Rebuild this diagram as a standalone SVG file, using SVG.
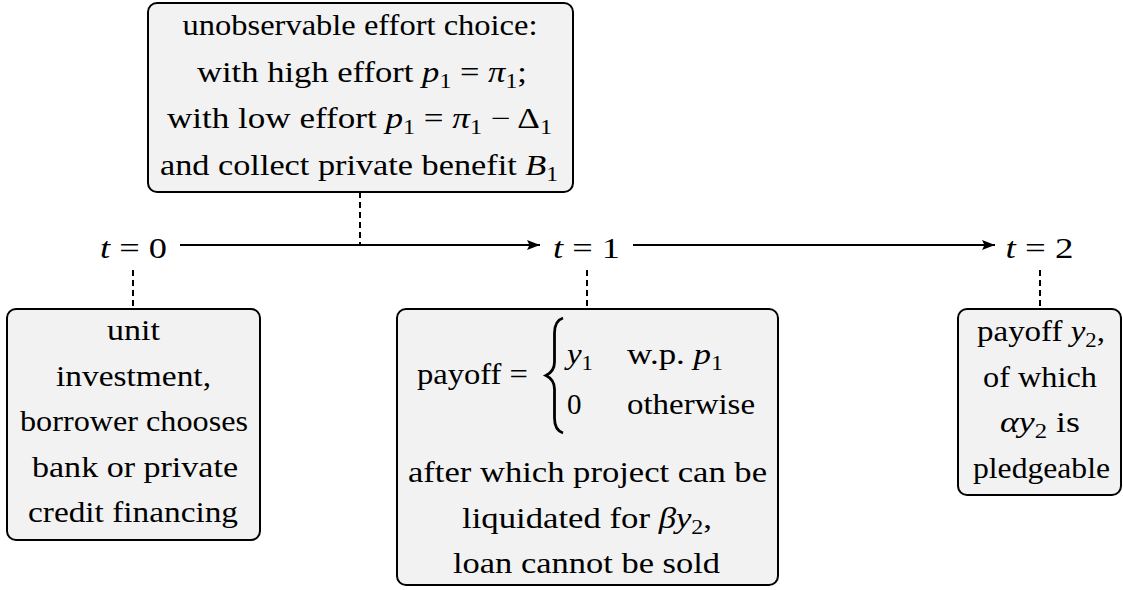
<svg xmlns="http://www.w3.org/2000/svg" width="1123" height="590" viewBox="0 0 1123 590">
<style>
.box{fill:#f2f2f2;stroke:#000;stroke-width:2}
text{font-family:'Liberation Serif','DejaVu Serif',serif;font-size:29px;fill:#000}
.t{text-anchor:middle}
.i{font-style:italic}
.s{font-size:20px}
.dash{stroke:#000;stroke-width:2;stroke-dasharray:6 4;fill:none}
.arr{stroke:#000;stroke-width:2;fill:none}
</style>
<defs>
<marker id="ah" markerUnits="userSpaceOnUse" markerWidth="14" markerHeight="12" refX="13" refY="5" orient="auto">
<path d="M0,0 L13,5 L0,10 L2.5,5 Z" fill="#000"/>
</marker>
</defs>
<g id="connectors">
<line class="arr" x1="180" y1="245" x2="540" y2="245" marker-end="url(#ah)"/>
<line class="arr" x1="633" y1="245" x2="995" y2="245" marker-end="url(#ah)"/>
<line class="dash" x1="360" y1="192" x2="360" y2="245"/>
<line class="dash" x1="133" y1="270" x2="133" y2="309"/>
<line class="dash" x1="587" y1="270" x2="587" y2="309"/>
<line class="dash" x1="1040" y1="270" x2="1040" y2="309"/>
</g>
<g id="t0">
<text class="t" x="133.5" y="258" textLength="67" lengthAdjust="spacingAndGlyphs"><tspan class="i">t</tspan> = 0</text>
</g>
<g id="t1">
<text class="t" x="586.5" y="258" textLength="67" lengthAdjust="spacingAndGlyphs"><tspan class="i">t</tspan> = 1</text>
</g>
<g id="t2">
<text class="t" x="1039.5" y="258" textLength="68" lengthAdjust="spacingAndGlyphs"><tspan class="i">t</tspan> = 2</text>
</g>
<g id="effort">
<rect class="box" x="148" y="3" width="425" height="189" rx="9"/>
<text class="t" x="360" y="35" textLength="355" lengthAdjust="spacingAndGlyphs">unobservable effort choice:</text>
<text class="t" x="362" y="82" textLength="330" lengthAdjust="spacingAndGlyphs">with high effort <tspan class="i">p</tspan><tspan class="s" dy="6">1</tspan><tspan dy="-6"> = </tspan><tspan class="i">π</tspan><tspan class="s" dy="6">1</tspan><tspan dy="-6">;</tspan></text>
<text class="t" x="359.5" y="128" textLength="385" lengthAdjust="spacingAndGlyphs">with low effort <tspan class="i">p</tspan><tspan class="s" dy="6">1</tspan><tspan dy="-6"> = </tspan><tspan class="i">π</tspan><tspan class="s" dy="6">1</tspan><tspan dy="-6"> − Δ</tspan><tspan class="s" dy="6">1</tspan></text>
<text class="t" x="359" y="175" textLength="398" lengthAdjust="spacingAndGlyphs">and collect private benefit <tspan class="i">B</tspan><tspan class="s" dy="6">1</tspan></text>
</g>
<g id="invest">
<rect class="box" x="7" y="309" width="253" height="231" rx="9"/>
<text class="t" x="133.5" y="340" textLength="53" lengthAdjust="spacingAndGlyphs">unit</text>
<text class="t" x="133.5" y="386" textLength="155" lengthAdjust="spacingAndGlyphs">investment,</text>
<text class="t" x="134" y="431" textLength="228" lengthAdjust="spacingAndGlyphs">borrower chooses</text>
<text class="t" x="135" y="477" textLength="206" lengthAdjust="spacingAndGlyphs">bank or private</text>
<text class="t" x="133" y="522" textLength="210" lengthAdjust="spacingAndGlyphs">credit financing</text>
</g>
<g id="payoff1">
<rect class="box" x="397" y="309" width="381" height="276" rx="9"/>
<text x="417" y="384" textLength="111" lengthAdjust="spacingAndGlyphs">payoff =</text>
<path d="M563,318 C557,320 554.5,325 554.5,333 L554.5,362 C554.5,369 551,373 546,375.5 C551,378 554.5,382 554.5,389 L554.5,418 C554.5,426 557,431 563,433" fill="none" stroke="#000" stroke-width="2.8"/>
<text x="567" y="364" textLength="26" lengthAdjust="spacingAndGlyphs"><tspan class="i">y</tspan><tspan class="s" dy="6">1</tspan></text>
<text x="627" y="364" textLength="96" lengthAdjust="spacingAndGlyphs">w.p.  <tspan class="i">p</tspan><tspan class="s" dy="6">1</tspan></text>
<text x="567" y="414">0</text>
<text x="627" y="414" textLength="128" lengthAdjust="spacingAndGlyphs">otherwise</text>
<text class="t" x="587.5" y="482" textLength="359" lengthAdjust="spacingAndGlyphs">after which project can be</text>
<text class="t" x="587" y="528" textLength="250" lengthAdjust="spacingAndGlyphs">liquidated for <tspan class="i">βy</tspan><tspan class="s" dy="6">2</tspan><tspan dy="-6">,</tspan></text>
<text class="t" x="586.5" y="573" textLength="267" lengthAdjust="spacingAndGlyphs">loan cannot be sold</text>
</g>
<g id="payoff2">
<rect class="box" x="958" y="309" width="163" height="186" rx="9"/>
<text class="t" x="1041" y="341" textLength="128" lengthAdjust="spacingAndGlyphs">payoff <tspan class="i">y</tspan><tspan class="s" dy="6">2</tspan><tspan dy="-6">,</tspan></text>
<text class="t" x="1040" y="387" textLength="114" lengthAdjust="spacingAndGlyphs">of which</text>
<text class="t" x="1040" y="432" textLength="80" lengthAdjust="spacingAndGlyphs"><tspan class="i">αy</tspan><tspan class="s" dy="6">2</tspan><tspan dy="-6"> is</tspan></text>
<text class="t" x="1041.5" y="478" textLength="137" lengthAdjust="spacingAndGlyphs">pledgeable</text>
</g>
</svg>
